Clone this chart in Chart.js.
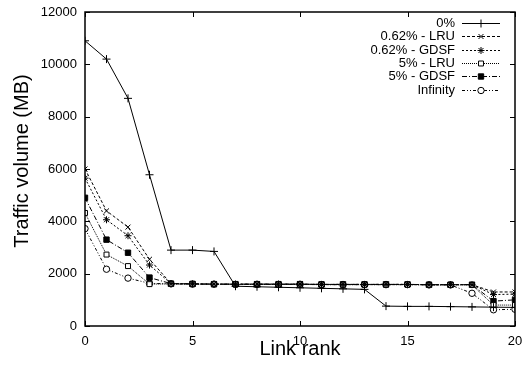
<!DOCTYPE html>
<html>
<head>
<meta charset="utf-8">
<script src="https://cdn.jsdelivr.net/npm/chart.js@4/dist/chart.umd.min.js"></script>
<style>
  html, body { margin: 0; padding: 0; background: #fff; }
  canvas { display: block; }
</style>
</head>
<body>
<canvas id="chart" width="523" height="366"></canvas>
<script>
// link ranks on the x axis
const ranks = [0, 1, 2, 3, 4, 5, 6, 7, 8, 9, 10, 11, 12, 13, 14, 15, 16, 17, 18, 19, 20];

// traffic volume (MB) per cache setting
const noCache   = [10900, 10200, 8700, 5780, 2900, 2900, 2850, 1520, 1500, 1480, 1460, 1440, 1420, 1400, 760, 750, 750, 740, 730, 720, 710];
const lru062    = [6000, 4400, 3780, 2550, 1620, 1610, 1600, 1600, 1600, 1600, 1600, 1590, 1590, 1590, 1590, 1590, 1580, 1580, 1580, 1300, 1300];
const gdsf062   = [5650, 4060, 3450, 2330, 1620, 1610, 1600, 1600, 1600, 1600, 1600, 1590, 1590, 1590, 1590, 1590, 1580, 1580, 1580, 1200, 1220];
const lru5      = [4320, 2730, 2290, 1600, 1610, 1600, 1600, 1590, 1590, 1590, 1590, 1580, 1580, 1580, 1580, 1580, 1570, 1570, 1570, 800, 800];
const gdsf5     = [4900, 3300, 2800, 1850, 1620, 1610, 1600, 1600, 1600, 1600, 1600, 1590, 1590, 1590, 1590, 1590, 1580, 1580, 1580, 950, 1000];
const infinity  = [3720, 2170, 1830, 1630, 1610, 1600, 1600, 1590, 1590, 1590, 1590, 1580, 1580, 1580, 1580, 1580, 1570, 1570, 1250, 620, 640];

const seriesNames = ['0%', '0.62% - LRU', '0.62% - GDSF', '5% - LRU', '5% - GDSF', 'Infinity'];
const seriesValues = [noCache, lru062, gdsf062, lru5, gdsf5, infinity];

const xTicks = [0, 5, 10, 15, 20];
const yTicks = [0, 2000, 4000, 6000, 8000, 10000, 12000];

const FONT = '"Liberation Sans", Arial, sans-serif';

const styles = [
  { dash: [],           point: 'cross',    radius: 4,   fill: '#000' },
  { dash: [3, 2],       point: 'crossRot', radius: 3.5, fill: '#000' },
  { dash: [2, 2],       point: 'star',     radius: 3.5, fill: '#000' },
  { dash: [1, 1],       point: 'rect',     radius: 3.5, fill: '#fff' },
  { dash: [5, 2, 1, 2], point: 'rect',     radius: 3.8, fill: '#000' },
  { dash: [3, 2, 1, 2, 1, 2], point: 'circle', radius: 3.2, fill: '#fff' }
];

const datasets = seriesValues.map(function(vals, i) {
  return {
    label: seriesNames[i],
    data: ranks.map(function(r, j) { return { x: r, y: vals[j] }; }),
    borderColor: '#000',
    borderWidth: 1,
    borderDash: styles[i].dash,
    pointStyle: styles[i].point,
    pointRadius: styles[i].radius,
    pointBorderWidth: 1,
    pointBorderColor: '#000',
    pointBackgroundColor: styles[i].fill,
    tension: 0,
    fill: false
  };
});

// gnuplot style frame, inward mirror ticks, legend on the right
const gnuplotLook = {
  id: 'gnuplotLook',
  afterDatasetsDraw(chart) {
    const ctx = chart.ctx;
    const a = chart.chartArea;
    const xs = chart.scales.x, ys = chart.scales.y;
    ctx.save();
    ctx.strokeStyle = '#000';
    ctx.lineWidth = 1.5;
    ctx.setLineDash([]);
    ctx.strokeRect(a.left, a.top, a.right - a.left, a.bottom - a.top);
    ctx.lineWidth = 1;
    ctx.beginPath();
    xTicks.forEach(function(t) {
      const px = Math.round(xs.getPixelForValue(t)) + 0.5;
      ctx.moveTo(px, a.bottom); ctx.lineTo(px, a.bottom - 5);
      ctx.moveTo(px, a.top); ctx.lineTo(px, a.top + 5);
    });
    yTicks.forEach(function(t) {
      const py = Math.round(ys.getPixelForValue(t)) + 0.5;
      ctx.moveTo(a.left, py); ctx.lineTo(a.left + 5, py);
      ctx.moveTo(a.right, py); ctx.lineTo(a.right - 5, py);
    });
    ctx.stroke();

    // legend
    ctx.font = '13px ' + FONT;
    ctx.fillStyle = '#000';
    ctx.textAlign = 'right';
    ctx.textBaseline = 'middle';
    chart.data.datasets.forEach(function(ds, i) {
      const y = Math.round(23 + i * 13.3) + 0.5;
      ctx.fillText(ds.label, 455, y);
      ctx.lineWidth = 1;
      ctx.setLineDash(ds.borderDash);
      ctx.beginPath();
      ctx.moveTo(462, y); ctx.lineTo(500, y);
      ctx.stroke();
      ctx.setLineDash([]);
      ctx.fillStyle = ds.pointBackgroundColor;
      Chart.helpers.drawPoint(ctx, {
        pointStyle: ds.pointStyle, radius: ds.pointRadius, rotation: 0, borderWidth: 1
      }, 481, y);
      ctx.fillStyle = '#000';
    });

    // y axis title
    ctx.save();
    ctx.translate(22, 161);
    ctx.rotate(-Math.PI / 2);
    ctx.font = '20px ' + FONT;
    ctx.textAlign = 'center';
    ctx.fillText('Traffic volume (MB)', 0, 0);
    ctx.restore();
    ctx.restore();
  }
};

new Chart(document.getElementById('chart'), {
  type: 'line',
  data: { datasets: datasets },
  plugins: [gnuplotLook],
  options: {
    responsive: false,
    animation: false,
    devicePixelRatio: 1,
    layout: { padding: { left: 0, right: 8, top: 12, bottom: 0 } },
    plugins: {
      legend: { display: false },
      tooltip: { enabled: false }
    },
    scales: {
      x: {
        type: 'linear',
        min: 0,
        max: 20,
        grid: { display: false, drawTicks: false },
        border: { display: false },
        ticks: {
          stepSize: 5,
          padding: 8,
          color: '#000',
          font: { family: FONT, size: 13 },
          maxRotation: 0
        },
        title: {
          display: true,
          text: 'Link rank',
          color: '#000',
          font: { family: FONT, size: 20 },
          padding: { top: 5, bottom: 5 }
        },
        afterFit: function(scale) {
          scale.height = 40;
          scale.paddingLeft = 0;
          scale.paddingRight = 0;
        }
      },
      y: {
        min: 0,
        max: 12000,
        grid: { display: false, drawTicks: false },
        border: { display: false },
        ticks: {
          stepSize: 2000,
          padding: 8,
          color: '#000',
          font: { family: FONT, size: 13 },
          callback: function(v) { return String(v); }
        },
        afterFit: function(scale) {
          scale.width = 85;
          scale.paddingTop = 0;
          scale.paddingBottom = 0;
        }
      }
    }
  }
});
</script>
</body>
</html>
